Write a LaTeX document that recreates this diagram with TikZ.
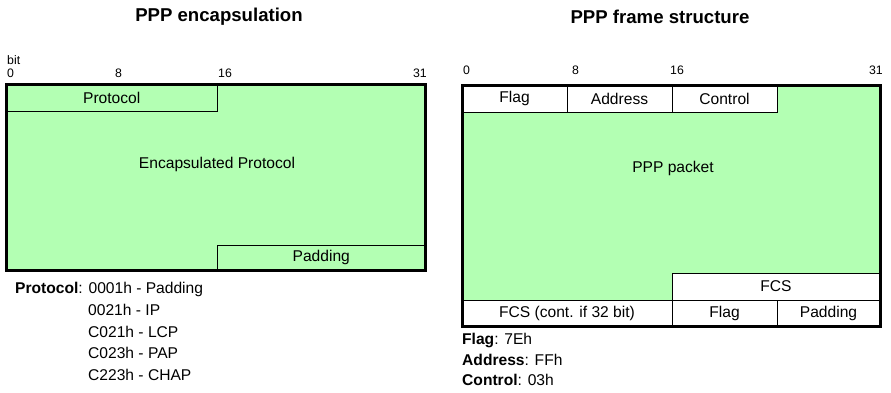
\documentclass[tikz,border=0pt]{standalone}
\usepackage{fontspec}
\setmainfont{Liberation Sans}
\definecolor{pktgreen}{RGB}{179,255,179}
\begin{document}
\begin{tikzpicture}[x=1pt,y=-1pt,
  body/.style={font=\fontsize{15.6}{18}\selectfont},
  tick/.style={font=\fontsize{12.3}{14}\selectfont, inner sep=0pt},
  ttl/.style={font=\fontsize{18.6}{21}\selectfont\bfseries, inner sep=0pt},
  frame/.style={draw=black, line width=3pt, inner sep=0pt, outer sep=0pt},
  cell/.style={draw=black, line width=1pt, inner sep=0pt, outer sep=0pt, body},
  gcell/.style={cell, fill=pktgreen},
  wcell/.style={cell, fill=white},
  note/.style={body, inner sep=0pt, anchor=west}]
\useasboundingbox (0,0) rectangle (891,392);
% titles
\node[ttl] (t1) at (219,17) {PPP encapsulation};
\node[ttl] (t2) at (660,17) {PPP frame structure};
% ---------- left: encapsulation ----------
\node[tick, anchor=west] (bit) at (7,60) {bit};
\node[tick, anchor=west] (l0) at (7,73) {0};
\node[tick, anchor=west] (l8) at (115,73) {8};
\node[tick, anchor=west] (l16) at (218,73) {16};
\node[tick, anchor=east] (l31) at (427,73) {31};
\fill[pktgreen] (6.5,84.5) rectangle (425.5,270);
\node[gcell, anchor=north west, minimum width=210.5pt, minimum height=26.5pt] (proto) at (6.5,84.5) {Protocol};
\node[gcell, anchor=north west, minimum width=208.5pt, minimum height=25pt] (pad) at (217,245) {Padding};
\node[body] (encap) at (217,164) {Encapsulated Protocol};
\node[frame, anchor=north west, minimum width=419pt, minimum height=185.5pt] (lbox) at (6.5,84.5) {};
% legend left
\node[note] (pl0) at (15,289) {\textbf{Protocol}: 0001h - Padding};
\node[note] (pl1) at (88,310) {0021h - IP};
\node[note] (pl2) at (88,332) {C021h - LCP};
\node[note] (pl3) at (88,353) {C023h - PAP};
\node[note] (pl4) at (88,375) {C223h - CHAP};
% ---------- right: frame structure ----------
\node[tick, anchor=west] (r0) at (463,70) {0};
\node[tick, anchor=west] (r8) at (572,70) {8};
\node[tick, anchor=west] (r16) at (670,70) {16};
\node[tick, anchor=east] (r31) at (883,70) {31};
\fill[pktgreen] (462,85.5) rectangle (880,326.5);
\node[wcell, anchor=north west, minimum width=105pt, minimum height=26.5pt] (flag) at (462,85.5) {Flag};
\node[wcell, anchor=north west, minimum width=105pt, minimum height=26.5pt] (addr) at (567,85.5) {Address};
\node[wcell, anchor=north west, minimum width=105pt, minimum height=26.5pt] (ctrl) at (672,85.5) {Control};
\node[body] (pkt) at (673,168) {PPP packet};
\node[wcell, anchor=north west, minimum width=208pt, minimum height=27pt] (fcs) at (672,273) {FCS};
\node[wcell, anchor=north west, minimum width=210pt, minimum height=26.5pt] (fcs2) at (462,300) {FCS (cont. if 32 bit)};
\node[wcell, anchor=north west, minimum width=105pt, minimum height=26.5pt] (flag2) at (672,300) {Flag};
\node[wcell, anchor=north west, minimum width=103pt, minimum height=26.5pt] (pad2) at (777,300) {Padding};
\node[frame, anchor=north west, minimum width=418pt, minimum height=241pt] (rbox) at (462,85.5) {};
% legend right
\node[note] (fl) at (462,340) {\textbf{Flag}: 7Eh};
\node[note] (ad) at (462,360) {\textbf{Address}: FFh};
\node[note] (co) at (462,380) {\textbf{Control}: 03h};
\end{tikzpicture}
\end{document}
